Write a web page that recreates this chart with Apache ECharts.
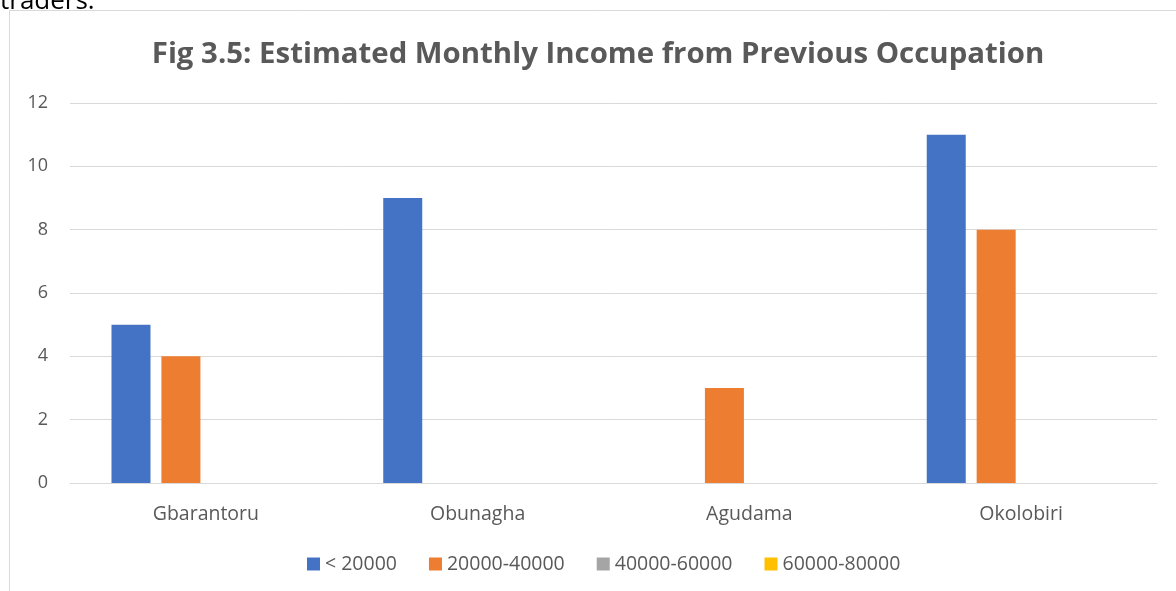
<!DOCTYPE html>
<html><head><meta charset="utf-8">
<script src="https://cdn.jsdelivr.net/npm/echarts@6/dist/echarts.min.js"></script>
<style>html,body{margin:0;padding:0;background:#fff}#c{width:1176px;height:591px}</style>
</head><body><div id="c"></div>
<script>
const categories = ['Gbarantoru', 'Obunagha', 'Agudama', 'Okolobiri'];
const seriesNames = ['< 20000', '20000-40000', '40000-60000', '60000-80000'];
const lt20000 = [5, 9, 0, 11];
const s20to40 = [4, 0, 3, 8];
const s40to60 = [0, 0, 0, 0];
const s60to80 = [0, 0, 0, 0];
const colors = ['#4472C4', '#ED7D31', '#A5A5A5', '#FFC000'];
const values = [lt20000, s20to40, s40to60, s60to80];
const font = '"Open Sans", sans-serif';

const chart = echarts.init(document.getElementById('c'), null, {renderer: 'canvas'});
chart.setOption({
  animation: false,
  backgroundColor: '#fff',
  title: {
    text: 'Fig 3.5: Estimated Monthly Income from Previous Occupation',
    left: 593, top: 35, textAlign: 'center',
    textStyle: {fontFamily: font, fontSize: 29.4, fontWeight: 'bold', color: '#595959'}
  },
  graphic: [
    {type: 'rect', shape: {x: 9.5, y: 10.5, width: 1200, height: 700}, style: {fill: 'none', stroke: '#d9d9d9', lineWidth: 1}, silent: true},
    {type: 'text', left: 0, top: -11, style: {text: 'traders.', font: '26px ' + font, fill: '#000'}}
  ],
  legend: {
    data: seriesNames,
    top: 549, left: 302,
    icon: 'rect', itemWidth: 13, itemHeight: 13, itemGap: 32,
    textStyle: {fontFamily: font, fontSize: 19.5, color: '#595959'}
  },
  grid: {left: 70, right: 19, top: 103, bottom: 108, containLabel: false},
  xAxis: {
    type: 'category', data: categories,
    axisLine: {lineStyle: {color: '#d9d9d9'}},
    axisTick: {show: false},
    axisLabel: {fontFamily: font, fontSize: 19.5, color: '#595959', margin: 21}
  },
  yAxis: {
    type: 'value', min: 0, max: 12, interval: 2,
    axisLine: {show: false}, axisTick: {show: false},
    splitLine: {lineStyle: {color: '#d9d9d9'}},
    axisLabel: {fontFamily: font, fontSize: 18, color: '#595959', margin: 22}
  },
  series: seriesNames.map((n, i) => ({
    name: n, type: 'bar', data: values[i],
    itemStyle: {color: colors[i]},
    barWidth: 39, barGap: '28%'
  }))
});
</script></body></html>
